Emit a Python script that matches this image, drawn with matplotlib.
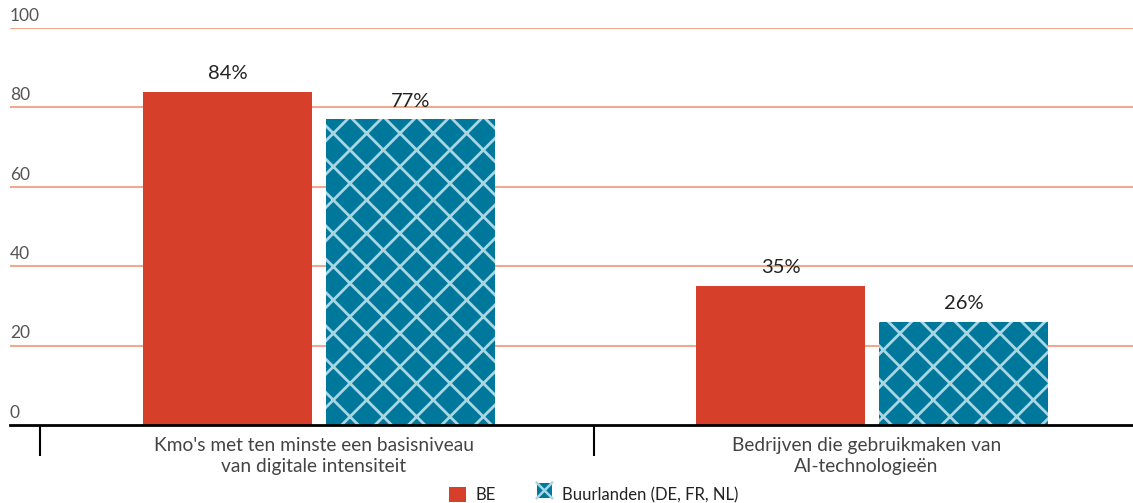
import numpy as np
import matplotlib.pyplot as plt
from matplotlib.patches import Patch, Rectangle
from matplotlib.lines import Line2D
from matplotlib.legend_handler import HandlerBase

plt.rcParams['font.family'] = ['Lato', 'DejaVu Sans']
plt.rcParams['hatch.linewidth'] = 2.0

categories = ["Kmo's met ten minste een basisniveau\nvan digitale intensiteit",
              "Bedrijven die gebruikmaken van\nAI-technologieën"]
series_names = ['BE', 'Buurlanden (DE, FR, NL)']
be_values = [84, 35]
buur_values = [77, 26]
yticks = [0, 20, 40, 60, 80, 100]

red = '#d6402a'
teal = '#00789c'
hatch_col = '#a9d6e3'
grid_col = '#f0a98f'


class CrossBox(HandlerBase):
    # square with one big X, like the legend swatch in the original
    def create_artists(self, legend, orig, xd, yd, width, height, fontsize, trans):
        s = min(width, height)
        x0, y0 = xd + (width - s) / 2, yd + (height - s) / 2
        r = Rectangle((x0, y0), s, s, facecolor=teal, linewidth=0, transform=trans)
        l1 = Line2D([x0, x0 + s], [y0, y0 + s], color=hatch_col, lw=1.8, transform=trans)
        l2 = Line2D([x0, x0 + s], [y0 + s, y0], color=hatch_col, lw=1.8, transform=trans)
        return [r, l1, l2]


fig = plt.figure(figsize=(11.33, 5.03), dpi=100)
ax = fig.add_axes([10/1133, 78/503, 1123/1133, 397/503])

x = np.arange(len(categories))
w = 0.307
off = 0.1655
b1 = ax.bar(x - off, be_values, w, color=red, linewidth=0, zorder=3)
b2 = ax.bar(x + off, buur_values, w, color=teal, edgecolor=hatch_col, hatch='x',
            linewidth=0, zorder=3)

for bars in (b1, b2):
    for r in bars:
        ax.annotate('%d%%' % r.get_height(), (r.get_x() + r.get_width()/2, r.get_height()),
                    xytext=(0, 7), textcoords='offset points', ha='center', va='bottom',
                    fontsize=14.5, color='#222222', zorder=4)

ax.set_xlim(-0.559, 1.472)
ax.set_ylim(0, 100)

# gridlines, with the y labels sitting on top of them
for v in yticks:
    if v > 0:
        ax.axhline(v, color=grid_col, linewidth=1.5, zorder=1)
    ax.annotate(str(v), (0, v), xycoords=ax.get_yaxis_transform(), xytext=(0, 3),
                textcoords='offset points', ha='left', va='bottom', fontsize=12.5,
                color='#555555')
ax.set_yticks([])

for s in ['top', 'right', 'left']:
    ax.spines[s].set_visible(False)
ax.spines['bottom'].set_linewidth(2)
ax.spines['bottom'].set_zorder(5)

ax.set_xticks([-0.505, 0.497])
ax.set_xticklabels([])
ax.tick_params(axis='x', which='major', length=22, width=1.5, direction='out')
ax.set_xticks(x - 0.01, minor=True)
ax.set_xticklabels(categories, minor=True, fontsize=13.8, color='#444444', linespacing=1.3)
ax.tick_params(axis='x', which='minor', length=0, pad=8.5)

handles = [Patch(facecolor=red, linewidth=0), Patch(facecolor=teal)]
fig.legend(handles, series_names, loc='center', bbox_to_anchor=(0.524, 8/503), ncol=2,
           frameon=False, fontsize=12, handlelength=1.05, handleheight=1.05,
           handletextpad=0.55, columnspacing=2.4, labelcolor='#222222',
           handler_map={handles[1]: CrossBox()})

fig.savefig('out.png', dpi=100)
